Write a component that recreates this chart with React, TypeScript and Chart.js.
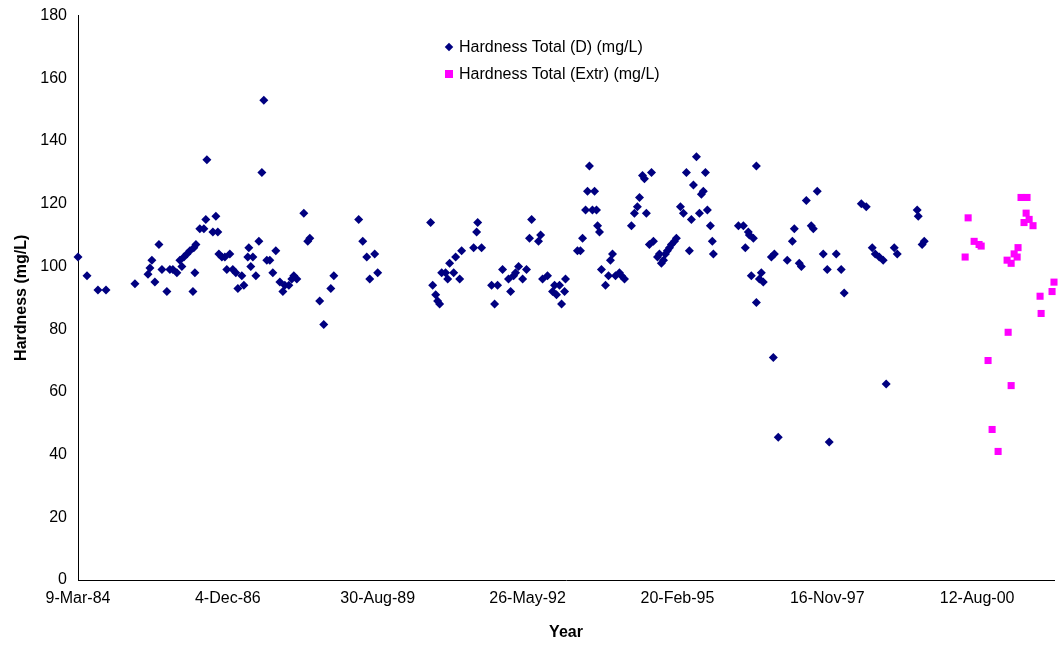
import React, { useEffect, useRef } from "react";
import { Chart, registerables } from "chart.js";
Chart.register(...registerables);

// x = days since 9-Mar-1984
const dDays = [0,60,133,187,380,467,480,493,513,540,560,593,613,633,660,680,693,707,727,747,773,780,787,767,813,840,860,853,900,920,933,940,960,980,993,1013,1033,1053,1067,1093,1107,1133,1140,1153,1167,1187,1207,1227,1240,1260,1280,1300,1320,1347,1367,1380,1407,1427,1440,1460,1507,1533,1547,1613,1640,1687,1707,1873,1900,1927,1947,1980,2000,
2353,2367,2387,2400,2413,2427,2453,2467,2480,2507,2520,2547,2560,2640,2660,2667,2693,2760,2780,2800,2833,2873,2887,2907,2920,2940,2967,2993,3013,3027,3073,3087,3100,3133,3167,3180,3193,3213,3227,3247,3253,3333,3353,3367,3387,3400,3413,3433,3447,3460,3467,3480,3493,3520,3540,3553,3567,3587,3613,3627,3647,3693,3713,3733,3747,3767,3780,3793,3813,3827,3840,3867,3880,3893,3907,3920,3933,3947,3960,3980,3993,4020,4040,4060,4080,4093,4107,4127,4147,4160,4173,4187,4200,4220,4233,4240,
4407,4440,4453,4473,4480,4493,4507,4527,4527,4547,4560,4573,4627,4640,4647,4673,4733,4767,4780,4813,4827,4860,4893,4907,4933,4973,5000,5013,5060,5093,5113,5227,5260,5300,5320,5347,5373,5393,5447,5467,5600,5607,5633,5647];
const dVals = [103,97,92.5,92.5,94.5,97.5,99.5,102,95,107,99,92,99,99,98,102,100,103,104,105,106,98,107,92,112,112,134,115,111,116,111,104,103,103,99,104,99,98,93,97,94,103,106,100,103,97,108,130,153,102,102,98,105,95,92,94,94,96,97,96,117,108,109,89,81.5,93,97,115,108,103,96,104,98,
114,94,91,89,88,98,98,96,101,98,103,96,105,106,111,114,106,94,88,94,99,96,92,97,98,100,96,99,109,115,108,110,96,97,92,94,91,94,88,92,96,105,105,109,118,124,132,118,124,118,113,111,99,94,97,102,104,97,98,97,96,113,117,119,122,129,128,117,107,130,108,103,104,101,102,104,105,106,107,108,109,119,117,130,105,115,126,135,117,123,124,130,118,113,108,104,
113,113,106,111,110,97,109,88.5,132,96,98,95,103,71,104,45.5,102,108,112,101,100,121,113,112,124,104,99,44,104,99,91.5,120,119,106,104,103,102,62.5,106,104,118,116,107,108];
const eDays = [5920,5940,5980,6013,6027,6073,6100,6140,6200,6207,6227,6227,6247,6267,6273,6293,6313,6327,6333,6347,6373,6420,6427,6500,6513,6540];
const eVals = [103,115.5,108,107,106.5,70,48,41,102,79,101,62,104,103,106,122,114,117,122,115,113,90.5,85,92,95,77];

const base = Date.UTC(1984, 2, 9);
const MON = ["Jan","Feb","Mar","Apr","May","Jun","Jul","Aug","Sep","Oct","Nov","Dec"];
function fmt(days: number) {
  const d = new Date(base + days * 86400000);
  return `${d.getUTCDate()}-${MON[d.getUTCMonth()]}-${String(d.getUTCFullYear()).slice(2)}`;
}

export default function App() {
  const ref = useRef<HTMLCanvasElement>(null);
  useEffect(() => {
    const font = { family: "Liberation Sans, Arial", size: 16 };
    const chart = new Chart(ref.current!, {
      type: "scatter",
      data: {
        datasets: [
          { label: "Hardness Total (D) (mg/L)", data: dDays.map((x, i) => ({ x, y: dVals[i] })), pointStyle: "rectRot", radius: 4.5, backgroundColor: "#000080", borderColor: "#000080", borderWidth: 0, clip: false as any },
          { label: "Hardness Total (Extr) (mg/L)", data: eDays.map((x, i) => ({ x, y: eVals[i] })), pointStyle: "rect", radius: 5, backgroundColor: "#FF00FF", borderColor: "#FF00FF", borderWidth: 0, clip: false as any },
        ],
      },
      options: {
        animation: false, responsive: false,
        layout: { padding: { top: 15, right: 0, left: 8, bottom: 0 } },
        plugins: { legend: { display: false }, tooltip: { enabled: false } },
        scales: {
          x: {
            type: "linear", min: 0, max: 6513,
            afterFit: (s: any) => { s.height = 66; },
            afterBuildTicks: (s: any) => { s.ticks = [0,1000,2000,3000,4000,5000,6000].map((v) => ({ value: v })); },
            grid: { display: false, drawOnChartArea: false, tickLength: 5, color: "#000" },
            border: { color: "#000" },
            ticks: { color: "#000", font, callback: (v: any) => fmt(Number(v)), maxRotation: 0, autoSkip: false, padding: 4 },
            title: { display: true, text: "Year", color: "#000", font: { ...font, weight: "bold" }, padding: { top: 0 } },
          },
          y: {
            min: 0, max: 180,
            afterFit: (s: any) => { s.width = 70; },
            grid: { display: false, drawOnChartArea: false, tickLength: 5, color: "#000" },
            border: { color: "#000" },
            ticks: { stepSize: 20, color: "#000", font, padding: 6 },
            title: { display: true, text: "Hardness (mg/L)", color: "#000", font: { ...font, weight: "bold" }, padding: { bottom: 2 } },
          },
        },
      },
    });
    return () => chart.destroy();
  }, []);
  const lg: React.CSSProperties = { position: "absolute", fontFamily: "Liberation Sans, Arial", fontSize: 16, color: "#000", display: "flex", alignItems: "center", whiteSpace: "nowrap" };
  return (
    <div style={{ position: "fixed", left: 0, top: 0, width: 1059, height: 646, background: "#fff" }}>
      <canvas ref={ref} width={1059} height={646} style={{ width: 1059, height: 646 }} />
      <div style={{ ...lg, left: 446, top: 38 }}>
        <span style={{ width: 6, height: 6, background: "#000080", transform: "rotate(45deg)", display: "inline-block", marginRight: 7 }} />
        Hardness Total (D) (mg/L)
      </div>
      <div style={{ ...lg, left: 445, top: 65 }}>
        <span style={{ width: 8, height: 8, background: "#FF00FF", display: "inline-block", marginRight: 6 }} />
        Hardness Total (Extr) (mg/L)
      </div>
    </div>
  );
}
